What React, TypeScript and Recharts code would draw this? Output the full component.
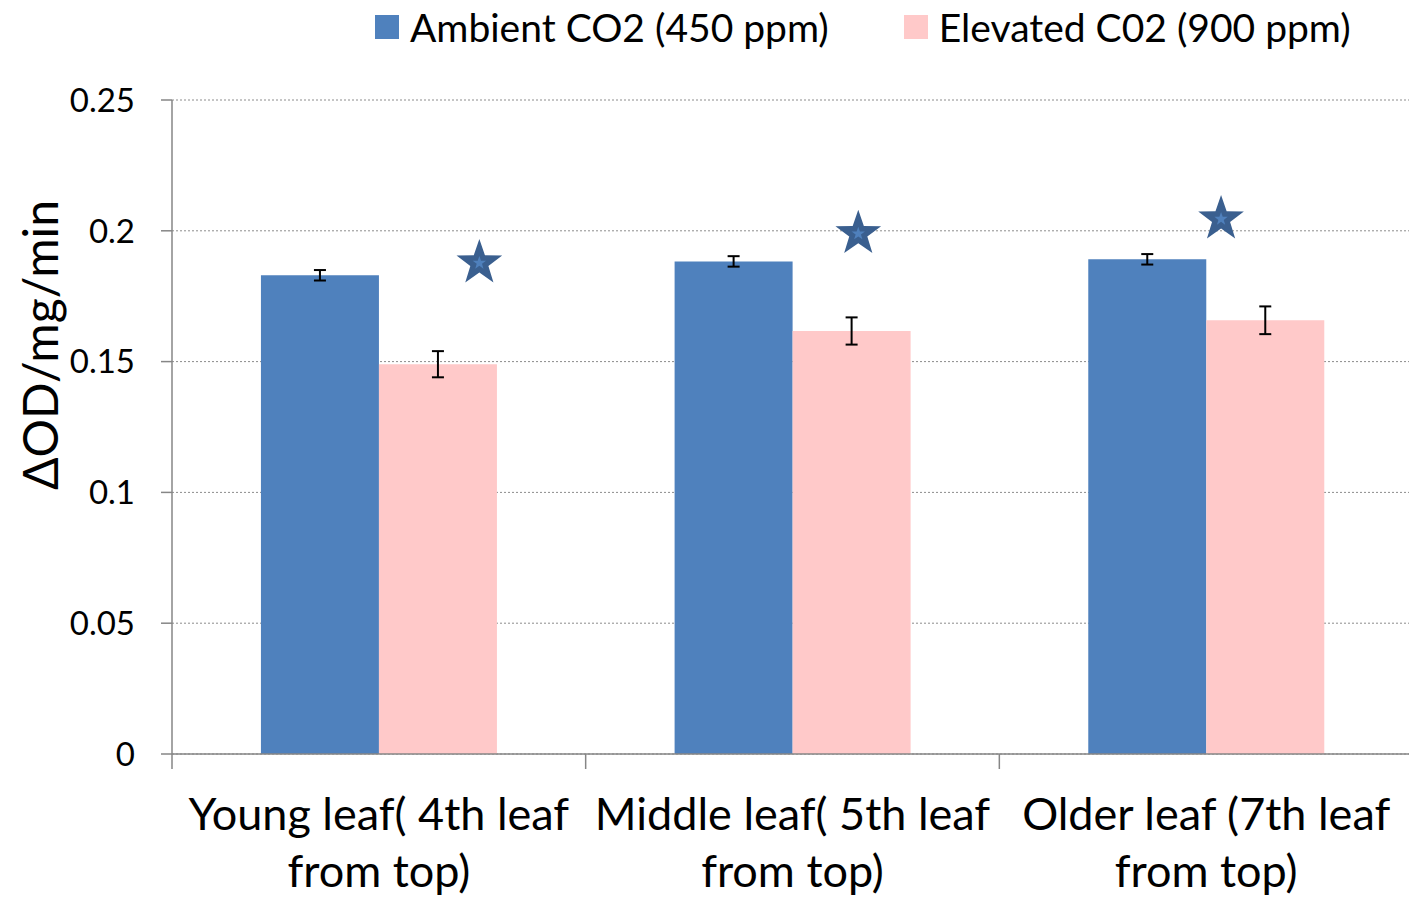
import { Bar, CartesianGrid, ComposedChart, ErrorBar, Legend, Scatter, XAxis, YAxis } from 'recharts';

const categories = ['Young leaf( 4th leaf\nfrom top)', 'Middle leaf( 5th leaf\nfrom top)', 'Older leaf (7th leaf\nfrom top)'];
const ambient = [0.183, 0.1883, 0.1891];
const ambientErr = [0.002, 0.002, 0.002];
const elevated = [0.149, 0.1617, 0.1658];
const elevatedErr = [0.005, 0.0052, 0.0053];
// significance stars, x in category units (0..3)
const starX = [0.743, 1.659, 2.536];
const starY = [0.1877, 0.1989, 0.2045];
const yTicks = [0, 0.05, 0.1, 0.15, 0.2, 0.25];

const seriesNames = ['Ambient CO2 (450 ppm)', 'Elevated C02 (900 ppm)'];
const BLUE = '#4f81bd';
const PINK = '#ffc9c9';
const AXIS = '#868686';
const FONT = 'Lato, "Open Sans", sans-serif';

const rows = categories.map((name, i) => ({
  name,
  ambient: ambient[i],
  ambientErr: ambientErr[i],
  elevated: elevated[i],
  elevatedErr: elevatedErr[i],
}));
const stars = starX.map((sx, i) => ({ sx, sy: starY[i] }));

function starPoints(cx: number, cy: number, outer: number, inner: number) {
  const pts: string[] = [];
  for (let k = 0; k < 10; k++) {
    const r = k % 2 === 0 ? outer : inner;
    const a = -Math.PI / 2 + (k * Math.PI) / 5;
    pts.push(`${cx + r * Math.cos(a)},${cy + r * Math.sin(a)}`);
  }
  return pts.join(' ');
}

function Star(props: any) {
  const { cx, cy } = props;
  return (
    <g>
      <polygon points={starPoints(cx, cy, 24, 9.5)} fill="#3a5f8f" />
      <polygon points={starPoints(cx, cy, 7, 2.8)} fill="#4f80bc" />
    </g>
  );
}

function CategoryTick(props: any) {
  const { x, y, payload } = props;
  const half = payload.offset ?? 0;
  const lines = String(payload.value).split('\n');
  return (
    <g>
      <line x1={x - half} y1={y} x2={x - half} y2={y + 15} stroke={AXIS} strokeWidth={1.5} />
      {lines.map((t, i) => (
        <text key={i} x={x} y={y + 76 + i * 57} textAnchor="middle" fontSize={45} fontFamily={FONT} fill="#000">
          {t}
        </text>
      ))}
    </g>
  );
}

function YTitle() {
  return (
    <text x={58} y={345} transform="rotate(-90 58 345)" textAnchor="middle" fontSize={48} fontFamily={FONT} fill="#000">
      ΔOD/mg/min
    </text>
  );
}

function LegendRow() {
  const colors = [BLUE, PINK];
  return (
    <div style={{ display: 'flex', paddingLeft: 375, height: 54, alignItems: 'center', fontFamily: FONT, fontSize: 39, color: '#000' }}>
      {seriesNames.map((n, i) => (
        <div key={n} style={{ display: 'flex', alignItems: 'center', marginLeft: i === 0 ? 0 : 75 }}>
          <span style={{ width: 24, height: 24, background: colors[i], marginRight: 11, display: 'inline-block' }} />
          <span>{n}</span>
        </div>
      ))}
    </div>
  );
}

export default function App() {
  return (
    <div style={{ position: 'absolute', left: 0, top: 0, width: 1409, height: 897, overflow: 'hidden', background: '#fff' }}>
      <ComposedChart
        width={1409}
        height={897}
        data={rows}
        margin={{ top: 100, right: -4, bottom: 0, left: 0 }}
        barGap={0}
        barCategoryGap="21.5%"
      >
        <CartesianGrid vertical={false} stroke="#8c8c8c" strokeDasharray="2 2" />
        <XAxis
          dataKey="name"
          height={143}
          axisLine={{ stroke: AXIS, strokeWidth: 1.5 }}
          tickLine={false}
          tickSize={0}
          tickMargin={0}
          interval={0}
          tick={<CategoryTick />}
        />
        <XAxis xAxisId="n" dataKey="sx" type="number" domain={[0, 3]} hide />
        <YAxis
          width={172}
          domain={[0, 0.25]}
          ticks={yTicks}
          interval={0}
          tickSize={11}
          tickMargin={26}
          axisLine={{ stroke: AXIS, strokeWidth: 1.5 }}
          tickLine={{ stroke: AXIS, strokeWidth: 1.5 }}
          tick={{ fontSize: 33, fontFamily: FONT, fill: '#000' }}
          label={{ content: () => <YTitle /> }}
        />
        <Legend verticalAlign="middle" align="center" wrapperStyle={{ top: 0, left: 0, width: 1409 }} content={() => <LegendRow />} />
        <Bar dataKey="ambient" name={seriesNames[0]} fill={BLUE} isAnimationActive={false}>
          <ErrorBar dataKey="ambientErr" width={6} strokeWidth={2} stroke="#000" />
        </Bar>
        <Bar dataKey="elevated" name={seriesNames[1]} fill={PINK} isAnimationActive={false}>
          <ErrorBar dataKey="elevatedErr" width={6} strokeWidth={2} stroke="#000" />
        </Bar>
        <Scatter data={stars} xAxisId="n" dataKey="sy" shape={<Star />} isAnimationActive={false} />
      </ComposedChart>
    </div>
  );
}
